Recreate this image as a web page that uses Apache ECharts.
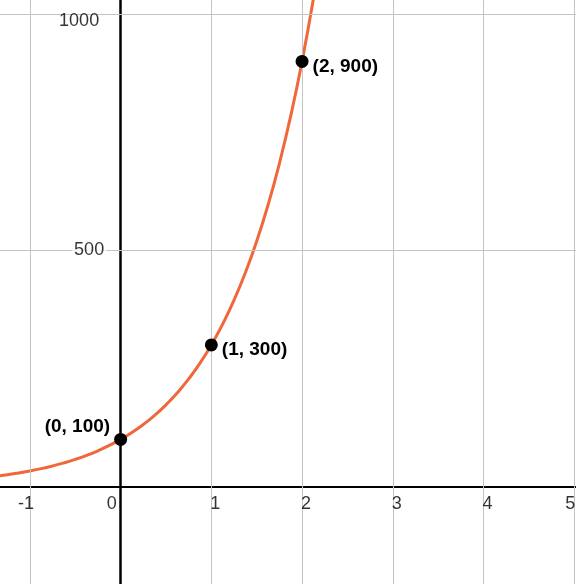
<!DOCTYPE html>
<html>
<head>
<meta charset="utf-8">
<script src="https://cdn.jsdelivr.net/npm/echarts@6/dist/echarts.min.js"></script>
<style>
  html, body { margin: 0; padding: 0; background: #fff; }
  #chart { width: 576px; height: 584px; }
</style>
</head>
<body>
<div id="chart"></div>
<script>
// Curva (x, y)
var curveX = [-1.5, -1.375, -1.25, -1.125, -1, -0.875, -0.75, -0.625, -0.5, -0.375, -0.25, -0.125,
  0, 0.125, 0.25, 0.375, 0.5, 0.625, 0.75, 0.875, 1, 1.125, 1.25, 1.375, 1.5, 1.625, 1.75, 1.875, 2, 2.125, 2.25];
var curveY = [19.2, 22.1, 25.3, 29.1, 33.3, 38.2, 43.9, 50.3, 57.7, 66.2, 76.0, 87.2,
  100, 114.7, 131.6, 151.0, 173.2, 198.7, 228.0, 261.6, 300, 344.2, 394.8, 453.0, 519.6, 596.1, 683.9, 784.6, 900, 1032.6, 1184.5];

// Puntos marcados
var pointX = [0, 1, 2];
var pointY = [100, 300, 900];
var pointLabels = ['(0, 100)', '(1, 300)', '(2, 900)'];

// Marcas de los ejes
var xTicks = [-1, 0, 1, 2, 3, 4, 5];
var yTicks = [500, 1000];

var chartDom = document.getElementById('chart');
var myChart = echarts.init(chartDom);

var font = '"Liberation Sans", Arial, sans-serif';

var curveData = curveX.map(function (x, i) { return [x, curveY[i]]; });
var pointData = pointX.map(function (x, i) {
  var isFirst = i === 0;
  return {
    value: [x, pointY[i]],
    label: {
      formatter: pointLabels[i],
      position: isFirst ? 'left' : 'right',
      distance: 4,
      offset: isFirst ? [0, -13] : [0, 5]
    }
  };
});

// Etiquetas de los ejes como texto junto a cada marca
var xLabelData = xTicks.map(function (t) {
  var dx = t === 0 ? -9 : (t < 0 ? -4 : 4);
  if (t === 5) dx = -4;
  return { value: [t, 0], label: { formatter: String(t), offset: [dx, 0] } };
});
var yLabelData = yTicks.map(function (t) {
  return {
    value: [0, t],
    label: {
      formatter: String(t),
      offset: t === 1000 ? [-5, 7] : [0, 0],
      backgroundColor: t === 1000 ? 'transparent' : '#fff'
    }
  };
});

var gridLines = [];
xTicks.forEach(function (t) { if (t !== 0) gridLines.push({ xAxis: t }); });
yTicks.forEach(function (t) { gridLines.push({ yAxis: t }); });

var option = {
  backgroundColor: '#fff',
  animation: false,
  grid: { left: 0, right: 0, top: 0, bottom: 0, containLabel: false, outerBoundsMode: 'none' },
  xAxis: {
    type: 'value',
    min: -1.33,
    max: 5.02,
    z: 3,
    splitLine: { show: false },
    axisTick: { show: false },
    axisLabel: { show: false },
    axisLine: { onZero: true, lineStyle: { color: '#000', width: 2 } }
  },
  yAxis: {
    type: 'value',
    min: -206,
    max: 1030,
    z: 3,
    splitLine: { show: false },
    axisTick: { show: false },
    axisLabel: { show: false },
    axisLine: { onZero: true, lineStyle: { color: '#000', width: 2.5 } }
  },
  series: [
    {
      // líneas de la cuadrícula
      type: 'line',
      data: [],
      z: 1,
      markLine: {
        silent: true,
        symbol: 'none',
        label: { show: false },
        lineStyle: { color: '#c4c4c4', width: 1, type: 'solid' },
        data: gridLines
      }
    },
    {
      type: 'scatter',
      data: xLabelData,
      symbolSize: 1,
      z: 6,
      silent: true,
      itemStyle: { color: 'rgba(0,0,0,0)' },
      label: {
        show: true,
        position: 'bottom',
        distance: 8,
        color: '#000',
        fontFamily: font,
        fontSize: 18
      }
    },
    {
      type: 'scatter',
      data: yLabelData,
      symbolSize: 1,
      z: 6,
      silent: true,
      itemStyle: { color: 'rgba(0,0,0,0)' },
      label: {
        show: true,
        position: 'left',
        distance: 14,
        padding: [1, 2, 1, 2],
        color: '#000',
        fontFamily: font,
        fontSize: 18
      }
    },
    {
      type: 'line',
      data: curveData,
      smooth: true,
      showSymbol: false,
      z: 4,
      lineStyle: { color: '#f0673a', width: 3 }
    },
    {
      type: 'scatter',
      data: pointData,
      symbolSize: 13,
      z: 5,
      itemStyle: { color: '#000', opacity: 1 },
      label: {
        show: true,
        color: '#000',
        fontFamily: font,
        fontWeight: 'bold',
        fontSize: 19
      }
    }
  ]
};

myChart.setOption(option);
</script>
</body>
</html>
